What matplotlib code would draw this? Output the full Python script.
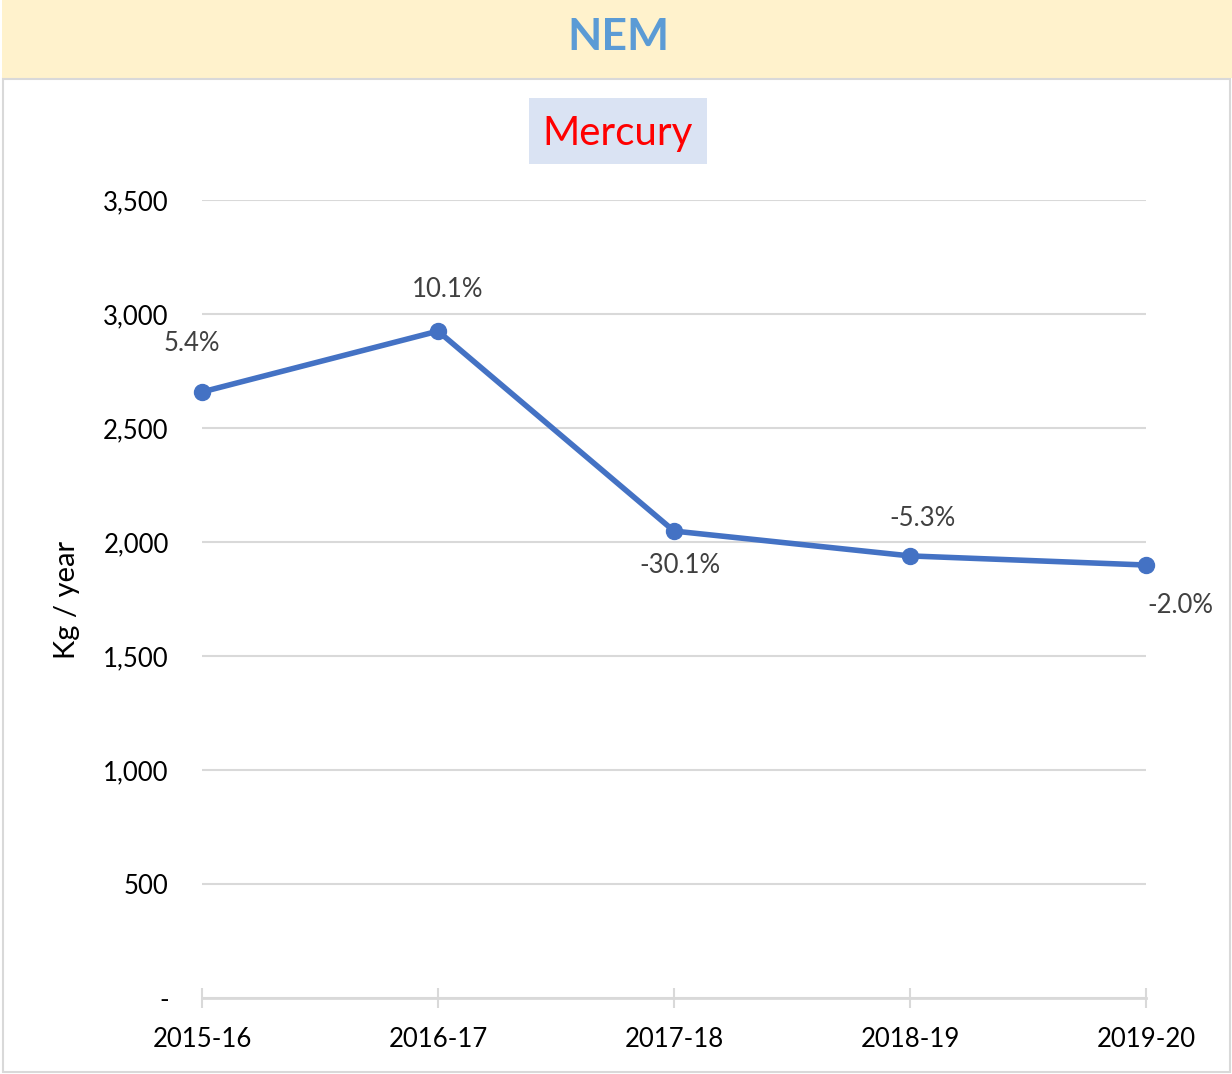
import matplotlib.pyplot as plt
from matplotlib.patches import Rectangle
from matplotlib.ticker import FuncFormatter

plt.rcParams['font.family'] = ['Lato', 'DejaVu Sans']

years = ["2015-16", "2016-17", "2017-18", "2018-19", "2019-20"]
mercury_kg = [2658, 2925, 2048, 1939, 1899]
pct_labels = ["5.4%", "10.1%", "-30.1%", "-5.3%", "-2.0%"]
y_ticks = [0, 500, 1000, 1500, 2000, 2500, 3000, 3500]

# where each % label sits relative to its point (in points)
label_offsets = [(-7, 35), (7, 30), (4, -25), (9, 27), (25, -29)]

W, H = 1232, 1074
fig = plt.figure(figsize=(W / 100, H / 100), dpi=100)

# yellow banner + white panel
fig.patches.append(Rectangle((2 / W, 1 - 78 / H), 1 - 2 / W, 78 / H, transform=fig.transFigure,
                             facecolor="#FFF2CC", edgecolor="none", zorder=0))
fig.patches.append(Rectangle((3 / W, 1 - 1072 / H), 1227 / W, 993 / H, transform=fig.transFigure,
                             facecolor="white", edgecolor="#D9D9D9", linewidth=1.5, zorder=0))
fig.text(618 / W, 1 - 37 / H, "NEM", ha="center", va="center", fontsize=32,
         fontweight="bold", color="#5B9BD5")

# subtitle box
fig.patches.append(Rectangle((529 / W, 1 - 164 / H), 178 / W, 66 / H, transform=fig.transFigure,
                             facecolor="#DAE3F3", edgecolor="none", zorder=1))
fig.text(618 / W, 1 - 134 / H, "Mercury", ha="center", va="center", fontsize=29,
         color="#FF0000", zorder=2)

ax = fig.add_axes([202 / W, 1 - 998 / H, (1146 - 202) / W, (998 - 200) / H])
ax.set_zorder(3)
ax.patch.set_visible(False)
x = range(len(years))
ax.plot(x, mercury_kg, color="#4472C4", linewidth=4, marker="o", markersize=11.5,
        zorder=3, clip_on=False)

for i, (v, lab) in enumerate(zip(mercury_kg, pct_labels)):
    ax.annotate(lab, (i, v), xytext=label_offsets[i], textcoords="offset points",
                ha="center", va="center", fontsize=18.5, color="#404040")

ax.set_xlim(0, len(years) - 1)
ax.set_ylim(0, 3500)
ax.set_yticks(y_ticks)
ax.yaxis.set_major_formatter(FuncFormatter(lambda v, p: "-" if v == 0 else f"{int(v):,}"))
ax.set_xticks(list(x))
ax.set_xticklabels(years)

ax.grid(axis="y", color="#D9D9D9", linewidth=1.5)
ax.set_axisbelow(True)
for s in ["top", "right", "left"]:
    ax.spines[s].set_visible(False)
ax.spines["bottom"].set_color("#D9D9D9")
ax.spines["bottom"].set_linewidth(2)

ax.tick_params(axis="y", length=0, pad=24, labelsize=18.5, labelcolor="black")
ax.tick_params(axis="x", direction="inout", length=14, width=1.5, color="#D9D9D9",
               pad=14, labelsize=18.5, labelcolor="black")
ax.set_ylabel("Kg / year", fontsize=21)
ax.yaxis.set_label_coords(-122 / (1146 - 202), (998 - 600) / (998 - 200))

fig.savefig("out.png", dpi=100)
